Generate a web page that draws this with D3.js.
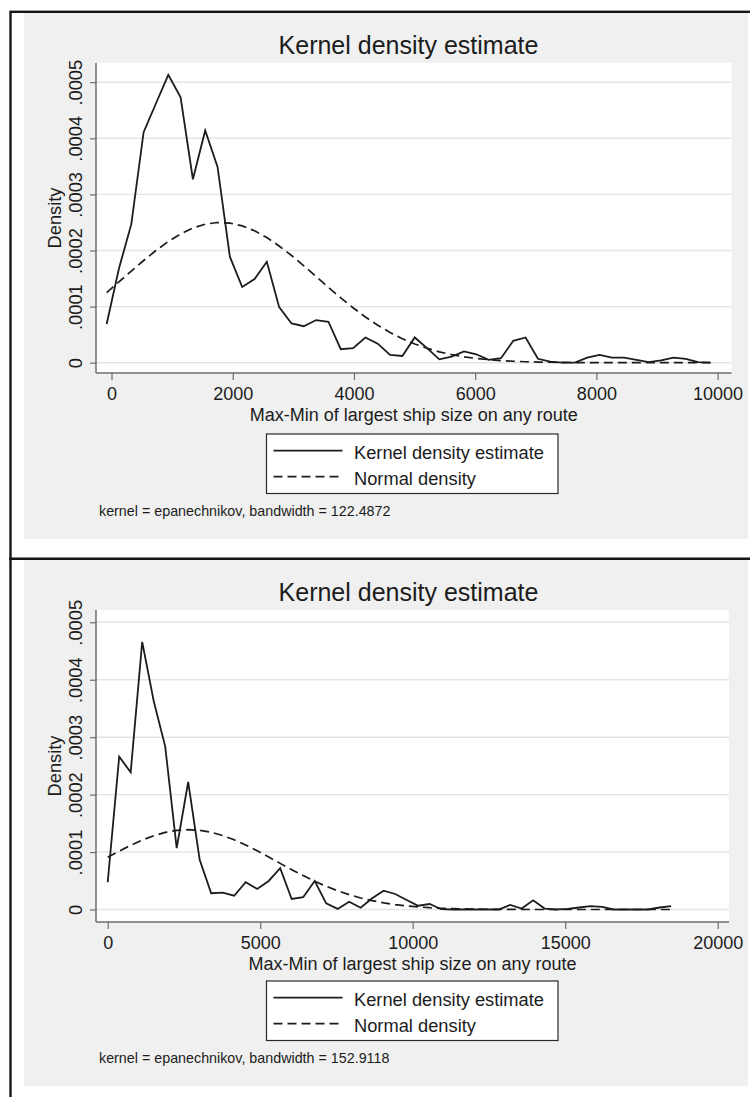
<!DOCTYPE html>
<html>
<head>
<meta charset="utf-8">
<script src="https://cdn.jsdelivr.net/npm/d3@7"></script>
<style>
  html, body { margin: 0; padding: 0; background: #ffffff; }
  svg { display: block; }
</style>
</head>
<body>
<svg id="chart" width="750" height="1097"></svg>
<script>
// ---- Data: kernel density estimates of the max-min spread of largest ship size ----

// Panel 1: evaluation grid, kernel density and matching normal density
const gridA = [-80, 123, 327, 530, 733, 937, 1140, 1343, 1546, 1750,
  1953, 2156, 2360, 2563, 2766, 2970, 3173, 3376, 3579, 3783,
  3986, 4189, 4393, 4596, 4799, 5003, 5206, 5409, 5612, 5816,
  6019, 6222, 6426, 6629, 6832, 7036, 7239, 7442, 7645, 7849,
  8052, 8255, 8459, 8662, 8865, 9069, 9272, 9475, 9678, 9882];
const kdeA = [0.000069, 0.000168, 0.000247, 0.000411, 0.000462, 0.000513, 0.000473, 0.000327, 0.000414, 0.000349,
  0.000189, 0.000135, 0.000149, 0.000180, 0.000099, 0.000070, 0.000065, 0.000076, 0.000073, 0.000024,
  0.000026, 0.000045, 0.000034, 0.000014, 0.000012, 0.000045, 0.000026, 0.000006, 0.000011, 0.000020,
  0.000015, 0.000005, 0.000008, 0.000039, 0.000045, 0.000007, 0.000002, 0.000000, 0.000000, 0.000009,
  0.000014, 0.000009, 0.000009, 0.000005, 0.000001, 0.000004, 0.000009, 0.000007, 0.000001, 0.000000];
const normA = [0.0001249, 0.0001440, 0.0001633, 0.0001822, 0.0002000, 0.0002160, 0.0002295, 0.0002400, 0.0002469, 0.0002499,
  0.0002489, 0.0002438, 0.0002351, 0.0002230, 0.0002081, 0.0001911, 0.0001727, 0.0001535, 0.0001342, 0.0001155,
  0.0000979, 0.0000815, 0.0000668, 0.0000539, 0.0000427, 0.0000334, 0.0000257, 0.0000194, 0.0000144, 0.0000105,
  0.0000076, 0.0000054, 0.0000037, 0.0000026, 0.0000017, 0.0000011, 0.0000008, 0.0000005, 0.0000003, 0.0000002,
  0.0000001, 0.0000001, 0, 0, 0, 0, 0, 0, 0, 0];
const xTicksA = [0, 2000, 4000, 6000, 8000, 10000];
const noteA = "kernel = epanechnikov, bandwidth = 122.4872";

// Panel 2
const gridB = [0, 377, 754, 1131, 1508, 1885, 2262, 2639, 3016, 3393,
  3770, 4147, 4524, 4901, 5278, 5655, 6032, 6409, 6786, 7163,
  7540, 7917, 8294, 8671, 9048, 9425, 9802, 10179, 10556, 10933,
  11310, 11687, 12064, 12441, 12818, 13195, 13572, 13949, 14326, 14703,
  15080, 15457, 15834, 16211, 16588, 16965, 17342, 17719, 18096, 18473];
const kdeB = [0.0000475, 0.000266, 0.000239, 0.000466, 0.000363, 0.000284, 0.000107, 0.000222, 0.0000864, 0.0000283,
  0.0000293, 0.000024, 0.0000475, 0.0000358, 0.0000497, 0.000072, 0.0000183, 0.0000213, 0.0000497, 0.0000108,
  0.000001, 0.0000136, 0.000003, 0.0000195, 0.0000328, 0.000027, 0.0000166, 0.0000066, 0.0000096, 0.0000005,
  0, 0, 0, 0, 0, 0.0000079, 0.0000017, 0.000016, 0.0000017, 0,
  0.000001, 0.0000035, 0.0000058, 0.0000047, 0, 0, 0, 0, 0.0000035, 0.0000058];
const normB = [0.0000908, 0.0001016, 0.0001118, 0.0001208, 0.0001284, 0.0001342, 0.0001377, 0.0001390, 0.0001379, 0.0001344,
  0.0001288, 0.0001213, 0.0001123, 0.0001022, 0.0000914, 0.0000803, 0.0000694, 0.0000590, 0.0000492, 0.0000404,
  0.0000326, 0.0000258, 0.0000201, 0.0000154, 0.0000116, 0.0000086, 0.0000062, 0.0000045, 0.0000031, 0.0000022,
  0.0000015, 0.0000010, 0.0000006, 0.0000004, 0.0000003, 0.0000002, 0.0000001, 0, 0, 0,
  0, 0, 0, 0, 0, 0, 0, 0, 0, 0];
const xTicksB = [0, 5000, 10000, 15000, 20000];
const noteB = "kernel = epanechnikov, bandwidth = 152.9118";

// Shared axis / text content
const yTicks = [0, 0.0001, 0.0002, 0.0003, 0.0004, 0.0005];
const yTickLabels = ["0", ".0001", ".0002", ".0003", ".0004", ".0005"];
const titleText = "Kernel density estimate";
const xTitle = "Max-Min of largest ship size on any route";
const yTitle = "Density";
const legendLabels = ["Kernel density estimate", "Normal density"];

// ---- Drawing ----
const FONT = "'Liberation Sans', Arial, Helvetica, sans-serif";
const INK = "#1c1c1c";
const svg = d3.select("#chart");

const panels = [
  { oy: 0, grid: gridA, kde: kdeA, norm: normA, xTicks: xTicksA, xMax: 10000, note: noteA,
    plot: { x0: 96, x1: 731.5, y0: 63, y1: 373 },
    xRange: [111.5, 717.6], yRange: [362.7, 82.2] },
  { oy: 547, grid: gridB, kde: kdeB, norm: normB, xTicks: xTicksB, xMax: 20000, note: noteB,
    plot: { x0: 96, x1: 729, y0: 610, y1: 922 },
    xRange: [107.7, 717.7], yRange: [909.5, 622.3] }
];

panels.forEach(p => {
  const g = svg.append("g");
  const oy = p.oy;

  // outer frame (right/bottom edges run off the canvas)
  g.append("rect")
    .attr("x", 10.5).attr("y", 11.8 + oy)
    .attr("width", 900).attr("height", 547.2)
    .attr("fill", "#ffffff")
    .attr("stroke", "#151515").attr("stroke-width", 2.4);

  // graph region background
  g.append("rect")
    .attr("x", 24).attr("y", 13 + oy)
    .attr("width", 724).attr("height", 526)
    .attr("fill", "#eff0ef");

  // plot region
  g.append("rect")
    .attr("x", p.plot.x0).attr("y", p.plot.y0)
    .attr("width", p.plot.x1 - p.plot.x0).attr("height", p.plot.y1 - p.plot.y0)
    .attr("fill", "#ffffff");

  const x = d3.scaleLinear().domain([0, p.xMax]).range(p.xRange);
  const y = d3.scaleLinear().domain([0, 0.0005]).range(p.yRange);

  // horizontal gridlines
  g.append("g").selectAll("line").data(yTicks).join("line")
    .attr("x1", p.plot.x0).attr("x2", p.plot.x1)
    .attr("y1", d => y(d)).attr("y2", d => y(d))
    .attr("stroke", "#e4e4e4").attr("stroke-width", 1.4);

  // y axis
  const yAxis = d3.axisLeft(y).tickValues(yTicks).tickSize(6)
    .tickFormat((d, i) => yTickLabels[i]);
  const ya = g.append("g").attr("transform", `translate(${p.plot.x0},0)`).call(yAxis);
  ya.select(".domain").attr("d", `M0,${p.plot.y0}V${p.plot.y1}`)
    .attr("stroke", "#6e6e6e").attr("stroke-width", 1.5);
  ya.selectAll(".tick line").attr("stroke", "#6e6e6e").attr("stroke-width", 1.2);
  ya.selectAll(".tick text")
    .attr("font-family", FONT).attr("font-size", 18.3).attr("fill", INK)
    .attr("x", null).attr("dy", null)
    .attr("text-anchor", "middle")
    .attr("transform", "translate(-14,0) rotate(-90)");

  // x axis
  const xAxis = d3.axisBottom(x).tickValues(p.xTicks).tickSize(7).tickFormat(d3.format("d"));
  const xa = g.append("g").attr("transform", `translate(0,${p.plot.y1})`).call(xAxis);
  xa.select(".domain").attr("d", `M${p.plot.x0},0H${p.plot.x1}`)
    .attr("stroke", "#6e6e6e").attr("stroke-width", 1.5);
  xa.selectAll(".tick line").attr("stroke", "#6e6e6e").attr("stroke-width", 1.2);
  xa.selectAll(".tick text")
    .attr("font-family", FONT).attr("font-size", 18).attr("fill", INK)
    .attr("y", 26.5).attr("dy", null);

  // curves
  const line = d3.line().x(d => x(d[0])).y(d => y(d[1]));
  g.append("path")
    .datum(p.grid.map((v, i) => [v, p.norm[i]]))
    .attr("d", line).attr("fill", "none")
    .attr("stroke", INK).attr("stroke-width", 1.7)
    .attr("stroke-dasharray", "9,5");
  g.append("path")
    .datum(p.grid.map((v, i) => [v, p.kde[i]]))
    .attr("d", line).attr("fill", "none")
    .attr("stroke", INK).attr("stroke-width", 1.8)
    .attr("stroke-linejoin", "miter");

  // titles
  g.append("text")
    .attr("x", 408.5).attr("y", 53.5 + oy)
    .attr("text-anchor", "middle")
    .attr("font-family", FONT).attr("font-size", 25).attr("fill", INK)
    .text(titleText);
  const midX = (p.plot.x0 + p.plot.x1) / 2;
  g.append("text")
    .attr("x", midX).attr("y", p.plot.y1 + 48)
    .attr("text-anchor", "middle")
    .attr("font-family", FONT).attr("font-size", 18).attr("fill", INK)
    .text(xTitle);
  g.append("text")
    .attr("transform", `translate(61,${(p.plot.y0 + p.plot.y1) / 2}) rotate(-90)`)
    .attr("text-anchor", "middle")
    .attr("font-family", FONT).attr("font-size", 18.3).attr("fill", INK)
    .text(yTitle);

  // legend
  const lg = g.append("g").attr("transform", `translate(266.5,${434 + oy})`);
  lg.append("rect").attr("width", 291.5).attr("height", 59.5)
    .attr("fill", "#ffffff").attr("stroke", "#2a2a2a").attr("stroke-width", 1.2);
  legendLabels.forEach((lab, i) => {
    const ly = 16.7 + i * 26;
    lg.append("line").attr("x1", 7).attr("x2", 76).attr("y1", ly).attr("y2", ly)
      .attr("stroke", INK).attr("stroke-width", 1.8)
      .attr("stroke-dasharray", i === 1 ? "9,5" : null);
    lg.append("text").attr("x", 87.5).attr("y", ly + 8.3)
      .attr("font-family", FONT).attr("font-size", 18.3).attr("fill", INK)
      .text(lab);
  });

  // kernel / bandwidth note
  g.append("text")
    .attr("x", 99).attr("y", 516 + oy)
    .attr("font-family", FONT).attr("font-size", 14.3).attr("fill", INK)
    .text(p.note);
});
</script>
</body>
</html>
